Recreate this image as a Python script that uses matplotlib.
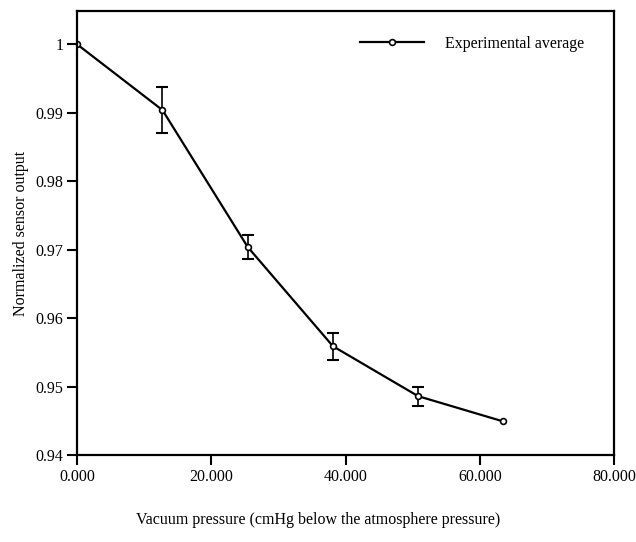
from matplotlib import pyplot as plt
from matplotlib.ticker import FuncFormatter
import numpy as np

plt.rcParams['font.family'] = ['Liberation Serif', 'DejaVu Serif']

# vacuum pressure (cmHg) and normalized output
pressure = [0.0, 12.7, 25.4, 38.1, 50.8, 63.5]
output = [1.0, 0.9904, 0.9704, 0.9559, 0.9486, 0.9449]
err = [0.0, 0.0034, 0.0017, 0.0020, 0.0014, 0.0]

x_ticks = [0, 20, 40, 60, 80]
y_ticks = [0.94, 0.95, 0.96, 0.97, 0.98, 0.99, 1.0]

fig = plt.figure(figsize=(6.36, 5.42), dpi=100)
ax = fig.add_axes([0.1215, 0.1605, 0.844, 0.819])

yerr = np.array(err)
yerr = np.where(yerr > 0, yerr, np.nan)
ax.errorbar(pressure, output, yerr=yerr, fmt='none', ecolor='black',
            elinewidth=1.2, capsize=4, capthick=1.5)
ax.plot(pressure, output, color='black', lw=1.6, marker='o', ms=4.2,
        mfc='white', mec='black', mew=1.2, label='Experimental average')

ax.set_xlim(0, 80)
ax.set_ylim(0.94, 1.00487)
ax.set_xticks(x_ticks)
ax.set_yticks(y_ticks)
ax.xaxis.set_major_formatter(FuncFormatter(lambda v, p: '%.3f' % v))
ax.yaxis.set_major_formatter(FuncFormatter(lambda v, p: '%g' % round(v, 2)))
ax.tick_params(direction='out', length=7, width=1.5, labelsize=11.5, pad=3)

for s in ax.spines.values():
    s.set_linewidth(1.6)

ax.set_ylabel('Normalized sensor output', fontsize=11.5, labelpad=5)
fig.text(0.5, 0.04, 'Vacuum pressure (cmHg below the atmosphere pressure)',
         ha='center', va='center', fontsize=11.5)

ax.legend(loc='center left', bbox_to_anchor=(0.527, 0.927), frameon=False,
          borderaxespad=0, borderpad=0, handlelength=4, handletextpad=1.3,
          fontsize=11.5)

plt.savefig('out.png')
